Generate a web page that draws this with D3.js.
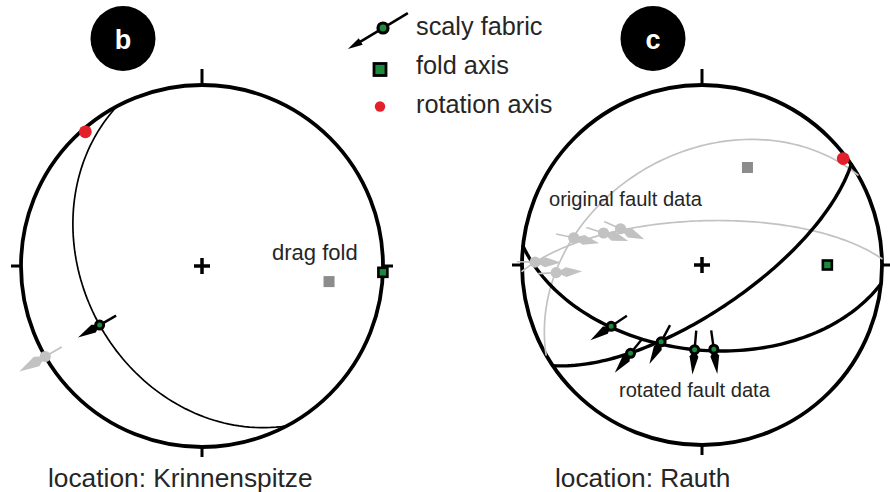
<!DOCTYPE html>
<html>
<head>
<meta charset="utf-8">
<script src="https://cdn.jsdelivr.net/npm/d3@7"></script>
<style>
  html, body { margin: 0; padding: 0; background: #fff; }
  svg { display: block; font-family: "Liberation Sans", Arial, Helvetica, sans-serif; }
</style>
</head>
<body>
<svg id="chart" width="890" height="492"></svg>
<script>
// Lower-hemisphere equal-area (Schmidt) nets.
// Planes are [dip direction, dip]; lines are [trend, plunge], all in degrees.

const panelLetters = ["b", "c"];
const locationNames = ["Krinnenspitze", "Rauth"];
const legendLabels = ["scaly fabric", "fold axis", "rotation axis"];

// Panel b: Krinnenspitze
const bScalyPlanes = [[242, 35]];
const bScalyLines = [[240, 35]];
const bScalySense = [1];
const bOriginalLines = [[240, 0]];
const bOriginalSense = [1];
const bFoldAxes = [[92, 0]];
const bDragFolds = [[97, 30]];
const bRotationAxes = [[319, 2]];

// Panel c: Rauth
const cOriginalPlanes = [[330, 38], [358, 70]];
const cOriginalLines = [[294, 49], [288, 42], [282, 28], [271, 8], [267, 20]];
const cOriginalSense = [-1, -1, -1, -1, -1];
const cRotatedPlanes = [[146, 69], [186, 51]];
const cRotatedLines = [[236, 39], [219, 37], [208, 50], [185, 51], [172, 51]];
const cRotatedSense = [1, 1, 1, 1, 1];
const cFoldAxes = [[90, 31]];
const cDragFolds = [[25, 40]];
const cRotationAxes = [[53, 2]];

const GREEN = "#1b8a3c", RED = "#e3202a", LIGHT = "#c2c2c2", MID = "#8c8c8c", INK = "#262626";
const rad = Math.PI / 180;

const svg = d3.select("#chart");
svg.append("rect").attr("width", 890).attr("height", 492).attr("fill", "#fff");

// Geographic stand-in for a line: the centre of the net is straight down.
const toGeo = ([trend, plunge]) => [180 - trend, plunge];

function makeNet(cx, cy, R) {
  const projection = d3.geoAzimuthalEqualArea()
    .rotate([0, -90])
    .scale(R / Math.SQRT2)
    .translate([cx, cy]);
  return { projection, path: d3.geoPath(projection), cx, cy, R };
}

// Lines lying in a plane, swept from strike to strike through the dip direction.
function greatCircle([dd, dip]) {
  const s = (dd - 90) * rad, d = dip * rad, a = dd * rad;
  const sv = [Math.sin(s), Math.cos(s), 0];
  const dv = [Math.cos(d) * Math.sin(a), Math.cos(d) * Math.cos(a), Math.sin(d)];
  const coords = d3.range(0, 180.001, 2).map(r => {
    const c = Math.cos(r * rad), si = Math.sin(r * rad);
    const e = c * sv[0] + si * dv[0];
    const n = c * sv[1] + si * dv[1];
    const z = si * dv[2];
    const plunge = Math.asin(Math.max(0, Math.min(1, z))) / rad;
    const trend = Math.atan2(e, n) / rad;
    return toGeo([trend, plunge]);
  });
  return { type: "LineString", coordinates: coords };
}

function drawFrame(g, net) {
  const { cx, cy, R } = net;
  g.append("circle").attr("cx", cx).attr("cy", cy).attr("r", R)
    .attr("fill", "none").attr("stroke", "#000").attr("stroke-width", 3.8);
  const ticks = [[0, 16], [90, 10], [180, 10], [270, 10]];
  ticks.forEach(([az, len]) => {
    const ux = Math.sin(az * rad), uy = -Math.cos(az * rad);
    g.append("line")
      .attr("x1", cx + ux * (R - 1)).attr("y1", cy + uy * (R - 1))
      .attr("x2", cx + ux * (R + len)).attr("y2", cy + uy * (R + len))
      .attr("stroke", "#000").attr("stroke-width", 3);
  });
  g.append("path")
    .attr("d", `M${cx - 8},${cy}H${cx + 8}M${cx},${cy - 8}V${cy + 8}`)
    .attr("stroke", "#000").attr("stroke-width", 3.5);
}

function drawPlanes(g, net, planes, color, width) {
  g.selectAll(null).data(planes).join("path")
    .attr("d", p => net.path(greatCircle(p)))
    .attr("fill", "none").attr("stroke", color).attr("stroke-width", width)
    .attr("stroke-linecap", "round");
}

// Lineation with slip arrow: thin tail behind, kite-shaped head in slip direction.
function drawLineations(g, net, lines, senses, style) {
  lines.forEach((ln, i) => {
    const [px, py] = net.projection(toGeo(ln));
    const sgn = senses[i];
    const ux = Math.sin(ln[0] * rad) * sgn, uy = -Math.cos(ln[0] * rad) * sgn;
    const vx = -uy, vy = ux;
    g.append("line")
      .attr("x1", px).attr("y1", py)
      .attr("x2", px - ux * style.tail).attr("y2", py - uy * style.tail)
      .attr("stroke", style.color).attr("stroke-width", style.tailWidth);
    const a = style.neck, w = style.half, L = style.head;
    const pts = [
      [px, py],
      [px + ux * a + vx * w, py + uy * a + vy * w],
      [px + ux * L, py + uy * L],
      [px + ux * a - vx * w, py + uy * a - vy * w]
    ];
    g.append("path").attr("d", "M" + pts.join("L") + "Z").attr("fill", style.color);
    const dot = g.append("circle").attr("cx", px).attr("cy", py);
    if (style.ring) {
      dot.attr("r", 4).attr("fill", GREEN).attr("stroke", "#000").attr("stroke-width", 3);
    } else {
      dot.attr("r", 5.6).attr("fill", style.color);
    }
  });
}

function drawSquares(g, net, lines, fill, stroke, size) {
  g.selectAll(null).data(lines).join("rect")
    .attr("x", d => net.projection(toGeo(d))[0] - size / 2)
    .attr("y", d => net.projection(toGeo(d))[1] - size / 2)
    .attr("width", size).attr("height", size)
    .attr("fill", fill)
    .attr("stroke", stroke || "none").attr("stroke-width", stroke ? 2.6 : 0);
}

function drawRedDots(g, net, lines) {
  g.selectAll(null).data(lines).join("circle")
    .attr("cx", d => net.projection(toGeo(d))[0])
    .attr("cy", d => net.projection(toGeo(d))[1])
    .attr("r", 6.4).attr("fill", RED);
}

const blackArrow = { color: "#000", tail: 19, tailWidth: 2.4, neck: 7, half: 4.4, head: 25, ring: true };
const grayArrow = { color: LIGHT, tail: 18, tailWidth: 1.7, neck: 10, half: 5, head: 26, ring: false };
const grayArrowWide = { color: LIGHT, tail: 19, tailWidth: 1.8, neck: 10, half: 5.4, head: 30, ring: false };

// ---------- panel b ----------
const netB = makeNet(202, 266, 181);
const gB = svg.append("g");
drawFrame(gB, netB);
drawPlanes(gB, netB, bScalyPlanes, "#000", 1.7);
drawLineations(gB, netB, bOriginalLines, bOriginalSense, grayArrowWide);
drawLineations(gB, netB, bScalyLines, bScalySense, blackArrow);
drawSquares(gB, netB, bDragFolds, MID, null, 11);
drawSquares(gB, netB, bFoldAxes, GREEN, "#000", 9);
drawRedDots(gB, netB, bRotationAxes);
gB.append("text").attr("x", 272).attr("y", 260)
  .attr("font-size", 22).attr("fill", INK).text("drag fold");

// ---------- panel c ----------
const netC = makeNet(702, 265, 180);
const gC = svg.append("g");
drawFrame(gC, netC);
drawPlanes(gC, netC, cOriginalPlanes, LIGHT, 1.7);
drawPlanes(gC, netC, cRotatedPlanes, "#000", 3.4);
drawLineations(gC, netC, cOriginalLines, cOriginalSense, grayArrow);
drawLineations(gC, netC, cRotatedLines, cRotatedSense, blackArrow);
drawSquares(gC, netC, cDragFolds, MID, null, 11);
drawSquares(gC, netC, cFoldAxes, GREEN, "#000", 9);
drawRedDots(gC, netC, cRotationAxes);
gC.append("text").attr("x", 549).attr("y", 206)
  .attr("font-size", 20.1).attr("fill", INK).text("original fault data");
gC.append("text").attr("x", 619).attr("y", 397)
  .attr("font-size", 20.1).attr("fill", INK).text("rotated fault data");

// ---------- badges and location captions ----------
const badgeX = [123, 653];
panelLetters.forEach((L, i) => {
  svg.append("circle").attr("cx", badgeX[i]).attr("cy", 38.5).attr("r", 32.5).attr("fill", "#000");
  svg.append("text").attr("x", badgeX[i]).attr("y", 49).attr("text-anchor", "middle")
    .attr("font-size", 27).attr("font-weight", "bold").attr("fill", "#fff").text(L);
});
const captionX = [48, 555];
locationNames.forEach((name, i) => {
  svg.append("text").attr("x", captionX[i]).attr("y", 487)
    .attr("font-size", 26.3).attr("fill", INK).text("location: " + name);
});

// ---------- legend ----------
const legend = svg.append("g");
const legendY = [35, 74, 113];
legendLabels.forEach((lab, i) => {
  legend.append("text").attr("x", 416).attr("y", legendY[i])
    .attr("font-size", 25.3).attr("fill", INK).text(lab);
});
{
  // scaly fabric symbol: lineation dot on a line with an arrowhead
  const cx = 383, cy = 28, t = 239;
  const ux = Math.sin(t * rad), uy = -Math.cos(t * rad), vx = -uy, vy = ux;
  const tip = [cx + ux * 41, cy + uy * 41];
  legend.append("line")
    .attr("x1", cx - ux * 29).attr("y1", cy - uy * 29)
    .attr("x2", tip[0] - ux * 6).attr("y2", tip[1] - uy * 6)
    .attr("stroke", "#000").attr("stroke-width", 2.6);
  const base = [tip[0] - ux * 15, tip[1] - uy * 15];
  legend.append("path")
    .attr("d", `M${tip}L${base[0] + vx * 3.8},${base[1] + vy * 3.8}L${base[0] - vx * 3.8},${base[1] - vy * 3.8}Z`)
    .attr("fill", "#000");
  legend.append("circle").attr("cx", cx).attr("cy", cy).attr("r", 5)
    .attr("fill", GREEN).attr("stroke", "#000").attr("stroke-width", 3.2);
  legend.append("rect").attr("x", 374).attr("y", 63.5).attr("width", 12).attr("height", 12)
    .attr("fill", GREEN).attr("stroke", "#000").attr("stroke-width", 2.8);
  legend.append("circle").attr("cx", 380).attr("cy", 106.5).attr("r", 5.2).attr("fill", RED);
}
</script>
</body>
</html>
